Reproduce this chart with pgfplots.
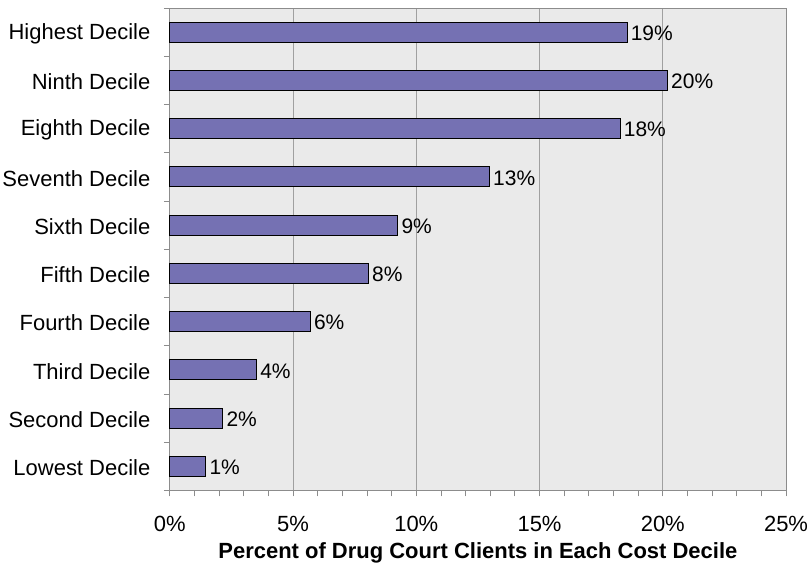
\documentclass[border=0pt]{standalone}
\usepackage{fontspec}
\setmainfont{Liberation Sans}
\usepackage{pgfplots}
\pgfplotsset{compat=1.18}

\definecolor{barfill}{HTML}{7571B3}
\definecolor{plotbg}{HTML}{EAEAEA}
\definecolor{gridgray}{HTML}{A0A0A0}
\definecolor{axisgray}{HTML}{8C8C8C}

\begin{document}
\begin{tikzpicture}
\begin{axis}[
  at={(0,0)}, anchor=south west,
  scale only axis,
  width=617pt, height=483pt,
  /pgf/number format/assume math mode=true,
  xbar, bar width=20pt,
  xmin=0, xmax=25,
  ymin=-0.5, ymax=9.5,
  axis background/.style={fill=plotbg},
  axis line style={axisgray, line width=0.8pt},
  xtick={0,5,...,25},
  xticklabels={0\%,5\%,10\%,15\%,20\%,25\%},
  minor xtick={1,2,3,4,6,7,8,9,11,12,13,14,16,17,18,19,21,22,23,24},
  xmajorgrids, grid style={gridgray, line width=0.8pt},
  minor x grid style={draw=none},
  ytick={0,...,9},
  yticklabels={Lowest Decile,Second Decile,Third Decile,Fourth Decile,Fifth Decile,Sixth Decile,Seventh Decile,Eighth Decile,Ninth Decile,Highest Decile},
  minor ytick={-0.5,0.5,...,9.5},
  y tick label style={xshift=-10pt, yshift=-1.5pt},
  tick align=outside,
  major tick length=6pt, minor tick length=6pt,
  every tick/.style={axisgray, line width=0.8pt},
  ytick style={draw=none},
  minor y tick style={draw=axisgray, line width=0.8pt},
  xtick pos=bottom, ytick pos=left,
  tick label style={font=\fontsize{22}{26}\selectfont, text=black},
  x tick label style={yshift=-16pt},
  xlabel={\bfseries Percent of Drug Court Clients in Each Cost Decile},
  xlabel style={font=\fontsize{22}{26}\selectfont, yshift=-4pt},
  nodes near coords={\pgfmathprintnumber[fixed,precision=0]{\pgfplotspointmeta}\%},
  nodes near coords align=horizontal,
  every node near coord/.append style={font=\fontsize{21}{25}\selectfont, text=black, xshift=0pt, yshift=-1pt},
  clip=false,
]
\addplot[fill=barfill, draw=black, line width=0.8pt] coordinates {
  (1.46,0) (2.15,1) (3.52,2) (5.70,3) (8.06,4)
  (9.25,5) (12.97,6) (18.27,7) (20.19,8) (18.55,9)
};
\end{axis}
\pgfresetboundingbox
\path[use as bounding box] (-170pt,-76pt) rectangle (640pt,491pt);
\end{tikzpicture}
\end{document}
